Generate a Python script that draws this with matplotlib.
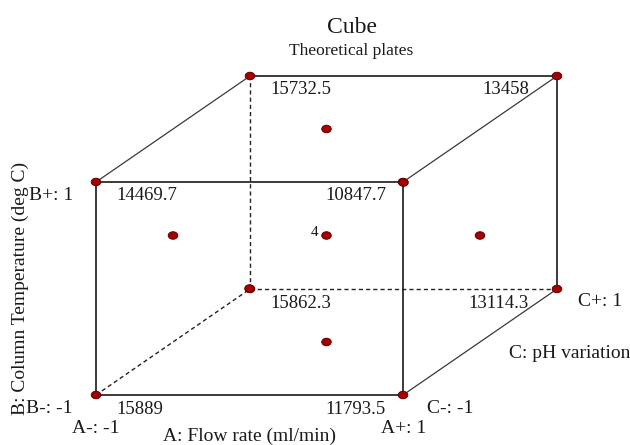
import matplotlib
matplotlib.use("Agg")
import matplotlib.pyplot as plt
from matplotlib.patches import Ellipse

# ---- data -------------------------------------------------------------
title = "Cube"
subtitle = "Theoretical plates"
factor_a = "A: Flow rate (ml/min)"
factor_b = "B: Column Temperature (deg C)"
factor_c = "C: pH variation"

# coded factor levels at the cube corners and the predicted response there
corner_a = [-1, 1, -1, 1, -1, 1, -1, 1]
corner_b = [-1, -1, 1, 1, -1, -1, 1, 1]
corner_c = [-1, -1, -1, -1, 1, 1, 1, 1]
corner_response = [15889, 11793.5, 14469.7, 10847.7, 15862.3, 13114.3, 15732.5, 13458]

# face-centred axial points and the centre point (with its replicate count)
axial_a = [-1, 1, 0, 0, 0, 0]
axial_b = [0, 0, -1, 1, 0, 0]
axial_c = [0, 0, 0, 0, -1, 1]
center_point = (0, 0, 0)
center_runs = 4

# ---- oblique projection of coded (A, B, C) onto the page --------------
CX, CY = 326.5, 235.5          # page position of the design centre
STEP_A = (153.5, 0.0)
STEP_B = (0.0, -106.5)
STEP_C = (77.0, -53.0)


def proj(a, b, c):
    x = CX + a * STEP_A[0] + b * STEP_B[0] + c * STEP_C[0]
    y = CY + a * STEP_A[1] + b * STEP_B[1] + c * STEP_C[1]
    return x, y


fig = plt.figure(figsize=(6.3, 4.45), dpi=100)
ax = fig.add_axes([0, 0, 1, 1])
ax.set_xlim(0, 630)
ax.set_ylim(445, 0)
ax.axis("off")

SERIF = ["Liberation Serif", "DejaVu Serif"]
INK = "#1a1a1a"

# ---- cube edges -------------------------------------------------------
hidden = {((-1, -1, 1), (-1, 1, 1)), ((-1, -1, 1), (1, -1, 1)),
          ((-1, -1, -1), (-1, -1, 1))}
corners = list(zip(corner_a, corner_b, corner_c))
for i, p in enumerate(corners):
    for q in corners[i + 1:]:
        diff = sum(1 for u, v in zip(p, q) if u != v)
        if diff != 1:
            continue
        (x0, y0), (x1, y1) = proj(*p), proj(*q)
        depth = p[2] != q[2]
        if (p, q) in hidden or (q, p) in hidden:
            ax.plot([x0, x1], [y0, y1], color="#222222", lw=1.0,
                    linestyle=(0, (3, 2.2)), zorder=1)
        else:
            ax.plot([x0, x1], [y0, y1], color="#3a3a3a",
                    lw=0.9 if depth else 1.4, zorder=1)

# ---- design points ----------------------------------------------------
def dot(a, b, c):
    x, y = proj(a, b, c)
    ax.add_patch(Ellipse((x, y), 9.5, 7.5, facecolor="#a80000",
                         edgecolor="#5c0000", lw=0.7, zorder=3))


for a, b, c in corners:
    dot(a, b, c)
for a, b, c in zip(axial_a, axial_b, axial_c):
    dot(a, b, c)
dot(*center_point)
cx, cy = proj(*center_point)
ax.text(cx - 8, cy + 1, str(center_runs), ha="right", va="baseline",
        fontsize=11, family=SERIF, color=INK)

# ---- response values at the corners -----------------------------------
for a, b, c, v in zip(corner_a, corner_b, corner_c, corner_response):
    x, y = proj(a, b, c)
    if a < 0:
        ax.text(x + 20, y + 18.5, f"{v:g}", ha="left", va="baseline",
                fontsize=13.5, family=SERIF, color=INK)
    else:
        off = 17 if c < 0 else 28
        ax.text(x - off, y + 18.5, f"{v:g}", ha="right", va="baseline",
                fontsize=13.5, family=SERIF, color=INK)

# ---- titles -----------------------------------------------------------
ax.text(351.5, 33, title, ha="center", va="baseline", fontsize=17,
        family=SERIF, color=INK)
ax.text(351.5, 55, subtitle, ha="center", va="baseline", fontsize=12.5,
        family=SERIF, color=INK)

# ---- factor labels ----------------------------------------------------
lab = dict(fontsize=14, family=SERIF, color=INK, va="baseline")
x, y = proj(-1, -1, -1)
ax.text(x, y + 38, "A-: -1", ha="center", **lab)
ax.text(x - 23, y + 18, "B-: -1", ha="right", **lab)
x, y = proj(1, -1, -1)
ax.text(x + 1, y + 38, "A+: 1", ha="center", **lab)
ax.text(x + 24, y + 18, "C-: -1", ha="left", **lab)
x, y = proj(-1, 1, -1)
ax.text(x - 23, y + 17.5, "B+: 1", ha="right", **lab)
x, y = proj(1, -1, 1)
ax.text(x + 21, y + 17, "C+: 1", ha="left", **lab)

x, y = proj(0, -1, -1)
ax.text(x, y + 46, factor_a, ha="center", **lab)
x, y = proj(1, -1, 0)
ax.text(x + 29, y + 16, factor_c, ha="left", **lab)
x, y = proj(-1, 0, -1)
ax.text(20, y, factor_b, ha="center", va="center", rotation=90,
        rotation_mode="anchor", fontsize=14, family=SERIF, color=INK)

fig.savefig("out.png", dpi=100)
